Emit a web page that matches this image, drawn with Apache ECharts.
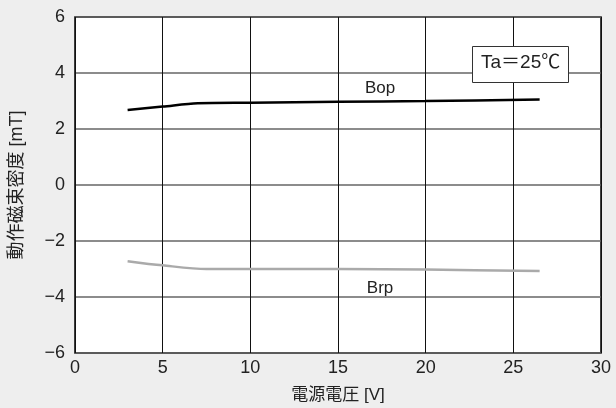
<!DOCTYPE html>
<html><head><meta charset="utf-8">
<script src="https://cdn.jsdelivr.net/npm/echarts@6/dist/echarts.min.js"></script>
<style>html,body{margin:0;padding:0;background:#eeeeee}#c{width:616px;height:408px}</style>
</head><body><div id="c"></div>
<script>
const bopX = [3, 5, 7, 10, 15, 20, 26.5];
const bopY = [2.68, 2.8, 2.92, 2.94, 2.97, 3.0, 3.05];
const brpX = [3, 5, 7.5, 10, 15, 20, 26.5];
const brpY = [-2.72, -2.87, -3.0, -3.0, -3.0, -3.02, -3.07];
const xTicks = [0, 5, 10, 15, 20, 25, 30];
const yTicks = [-6, -4, -2, 0, 2, 4, 6];
const xTitle = '電源電圧 [V]';
const yTitle = '動作磁束密度 [mT]';
const note = 'Ta＝25℃';
const bopName = 'Bop';
const brpName = 'Brp';

const font = '"Liberation Sans", "Noto Sans CJK JP", sans-serif';
const labelMark = (name, coord) => ({
  symbol: 'circle', symbolSize: 1, itemStyle: {color: 'rgba(0,0,0,0)'},
  label: {show: true, position: 'inside', formatter: name, fontFamily: font, fontSize: 17, color: '#222'},
  data: [{coord: coord}]
});
const chart = echarts.init(document.getElementById('c'));
chart.setOption({
  backgroundColor: '#eeeeee',
  animation: false,
  grid: {left: 75, right: 15, top: 17, bottom: 55, outerBoundsMode: 'none', containLabel: false,
    backgroundColor: '#fff', show: true, borderColor: '#000', borderWidth: 1.5},
  xAxis: {
    type: 'value', min: xTicks[0], max: xTicks[xTicks.length - 1], interval: 5,
    name: xTitle, nameLocation: 'middle', nameGap: 34,
    nameTextStyle: {fontFamily: font, fontSize: 17, color: '#222'},
    axisLine: {show: false}, axisTick: {show: false},
    axisLabel: {fontFamily: font, fontSize: 18, color: '#222', margin: 6},
    splitLine: {lineStyle: {color: '#111', width: 1}}
  },
  yAxis: {
    type: 'value', min: yTicks[0], max: yTicks[yTicks.length - 1], interval: 2,
    name: yTitle, nameLocation: 'middle', nameGap: 49,
    nameTextStyle: {fontFamily: font, fontSize: 18, color: '#222'},
    axisLine: {show: false}, axisTick: {show: false},
    axisLabel: {fontFamily: font, fontSize: 18, color: '#222', margin: 10,
      formatter: v => String(v).replace('-', '\u2212')},
    splitLine: {lineStyle: {color: '#666', width: 1.5}}
  },
  series: [
    {type: 'line', smooth: 0.3, showSymbol: false, data: bopX.map((x, i) => [x, bopY[i]]),
     lineStyle: {color: '#000', width: 2.5}, markPoint: labelMark(bopName, [17.4, 3.46])},
    {type: 'line', smooth: 0.3, showSymbol: false, data: brpX.map((x, i) => [x, brpY[i]]),
     lineStyle: {color: '#aaa', width: 2.5}, markPoint: labelMark(brpName, [17.4, -3.68])}
  ],
  graphic: [{
    type: 'rect', left: 472, top: 46, z: 10,
    shape: {width: 96, height: 36},
    style: {fill: '#fff', stroke: '#333', lineWidth: 1}
  }, {
    type: 'text', left: 481, top: 53, z: 11,
    style: {text: note, fontFamily: font, fontSize: 19, fill: '#222'}
  }]
});
</script></body></html>
